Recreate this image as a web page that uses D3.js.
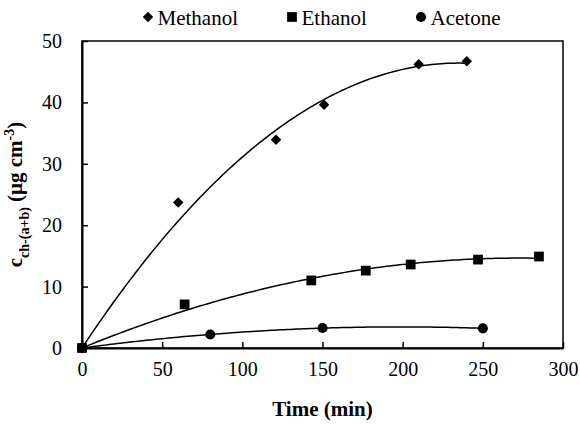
<!DOCTYPE html>
<html>
<head>
<meta charset="utf-8">
<title>Chlorophyll extraction</title>
<script src="https://cdn.jsdelivr.net/npm/d3@7/dist/d3.min.js"></script>
<style>
  body { margin: 0; background: #fff; }
  svg text { font-family: "Times New Roman", "Liberation Serif", Tinos, "DejaVu Serif", serif; }
</style>
</head>
<body>
<div id="chart"></div>
<script>
// data
var seriesNames = ["Methanol", "Ethanol", "Acetone"];
var methanolTime = [0, 60, 121, 151, 210, 240];
var methanolConc = [0, 23.7, 33.9, 39.6, 46.2, 46.7];
var ethanolTime = [0, 64, 143, 177, 205, 247, 285];
var ethanolConc = [0, 7.1, 11.0, 12.6, 13.6, 14.4, 14.9];
var acetoneTime = [0, 80, 150, 250];
var acetoneConc = [0, 2.2, 3.25, 3.2];
var xTicks = [0, 50, 100, 150, 200, 250, 300];
var yTicks = [0, 10, 20, 30, 40, 50];

var W = 580, H = 425;
var margin = {top: 41, right: 17, bottom: 77, left: 82};
var width = W - margin.left - margin.right,
    height = H - margin.top - margin.bottom;

var svg = d3.select("#chart").append("svg")
  .attr("width", W)
  .attr("height", H);
var g = svg.append("g")
  .attr("transform", "translate(" + margin.left + "," + margin.top + ")");

var x = d3.scaleLinear().domain([0, 300]).range([0, width]),
    y = d3.scaleLinear().domain([0, 50]).range([height, 0]);

var series = [
  {name: seriesNames[0], shape: d3.symbolDiamond2, size: 70, t: methanolTime, c: methanolConc},
  {name: seriesNames[1], shape: d3.symbolSquare, size: 95, t: ethanolTime, c: ethanolConc},
  {name: seriesNames[2], shape: d3.symbolCircle, size: 80, t: acetoneTime, c: acetoneConc}
];

// 2nd order polynomial trendline through the origin (least squares)
function fit(t, c) {
  var s2 = 0, s3 = 0, s4 = 0, sxy = 0, sx2y = 0;
  for (var i = 0; i < t.length; i++) {
    var xx = t[i];
    s2 += xx * xx; s3 += xx * xx * xx; s4 += xx * xx * xx * xx;
    sxy += xx * c[i]; sx2y += xx * xx * c[i];
  }
  var det = s2 * s4 - s3 * s3;
  var a = (sxy * s4 - s3 * sx2y) / det,
      b = (s2 * sx2y - s3 * sxy) / det;
  return function(v) { return a * v + b * v * v; };
}

// frame
g.append("rect")
  .attr("width", width).attr("height", height)
  .attr("fill", "none").attr("stroke", "#000").attr("stroke-width", 1.5);

var xAxis = g.append("g")
  .attr("transform", "translate(0," + height + ")")
  .call(d3.axisBottom(x).tickValues(xTicks).tickSizeInner(-6).tickSizeOuter(0).tickPadding(14));
var yAxis = g.append("g")
  .call(d3.axisLeft(y).tickValues(yTicks).tickSizeInner(-6).tickSizeOuter(0).tickPadding(20));

[xAxis, yAxis].forEach(function(a) {
  a.attr("font-family", null).attr("font-size", 20);
  a.select(".domain").attr("stroke-width", 2);
  a.selectAll(".tick line").attr("stroke-width", 1.5);
  a.selectAll(".tick text").attr("fill", "#000");
});
xAxis.selectAll(".tick text").attr("dy", "0.71em");

var line = d3.line()
  .x(function(d) { return x(d[0]); })
  .y(function(d) { return y(d[1]); });

series.forEach(function(s) {
  var f = fit(s.t, s.c);
  var xmax = d3.max(s.t);
  var pts = d3.range(0, xmax, 2).concat([xmax]).map(function(v) { return [v, f(v)]; });
  g.append("path")
    .attr("d", line(pts))
    .attr("fill", "none")
    .attr("stroke", "#000")
    .attr("stroke-width", 1.5);
});

// markers; ethanol last so its square sits on top at the origin
[series[0], series[2], series[1]].forEach(function(s) {
  g.selectAll(null)
    .data(s.t.map(function(v, i) { return [v, s.c[i]]; }))
    .enter().append("path")
    .attr("transform", function(d) { return "translate(" + x(d[0]) + "," + y(d[1]) + ")"; })
    .attr("d", d3.symbol(s.shape, s.size))
    .attr("fill", "#000");
});

// legend
var legendX = [148, 292, 421];
var legend = svg.selectAll(".legend")
  .data(series)
  .enter().append("g")
  .attr("class", "legend")
  .attr("transform", function(d, i) { return "translate(" + legendX[i] + ",17)"; });
legend.append("path")
  .attr("d", function(d) { return d3.symbol(d.shape, d.size)(); })
  .attr("fill", "#000");
legend.append("text")
  .attr("x", 9.5)
  .attr("y", 8)
  .attr("font-size", 21)
  .text(function(d) { return d.name; });

// axis titles
svg.append("text")
  .attr("x", margin.left + width / 2)
  .attr("y", 416)
  .attr("text-anchor", "middle")
  .attr("font-size", 21)
  .attr("font-weight", "bold")
  .text("Time (min)");

var yl = svg.append("text")
  .attr("transform", "translate(22," + (margin.top + height / 2) + ") rotate(-90)")
  .attr("text-anchor", "middle")
  .attr("font-size", 21)
  .attr("font-weight", "bold");
yl.append("tspan").text("c");
yl.append("tspan").attr("font-size", 14).attr("dy", 7).text("ch-(a+b)");
yl.append("tspan").attr("dy", -7).text(" (μg cm");
yl.append("tspan").attr("font-size", 14).attr("dy", -8).text("-3");
yl.append("tspan").attr("dy", 8).text(")");
</script>
</body>
</html>
